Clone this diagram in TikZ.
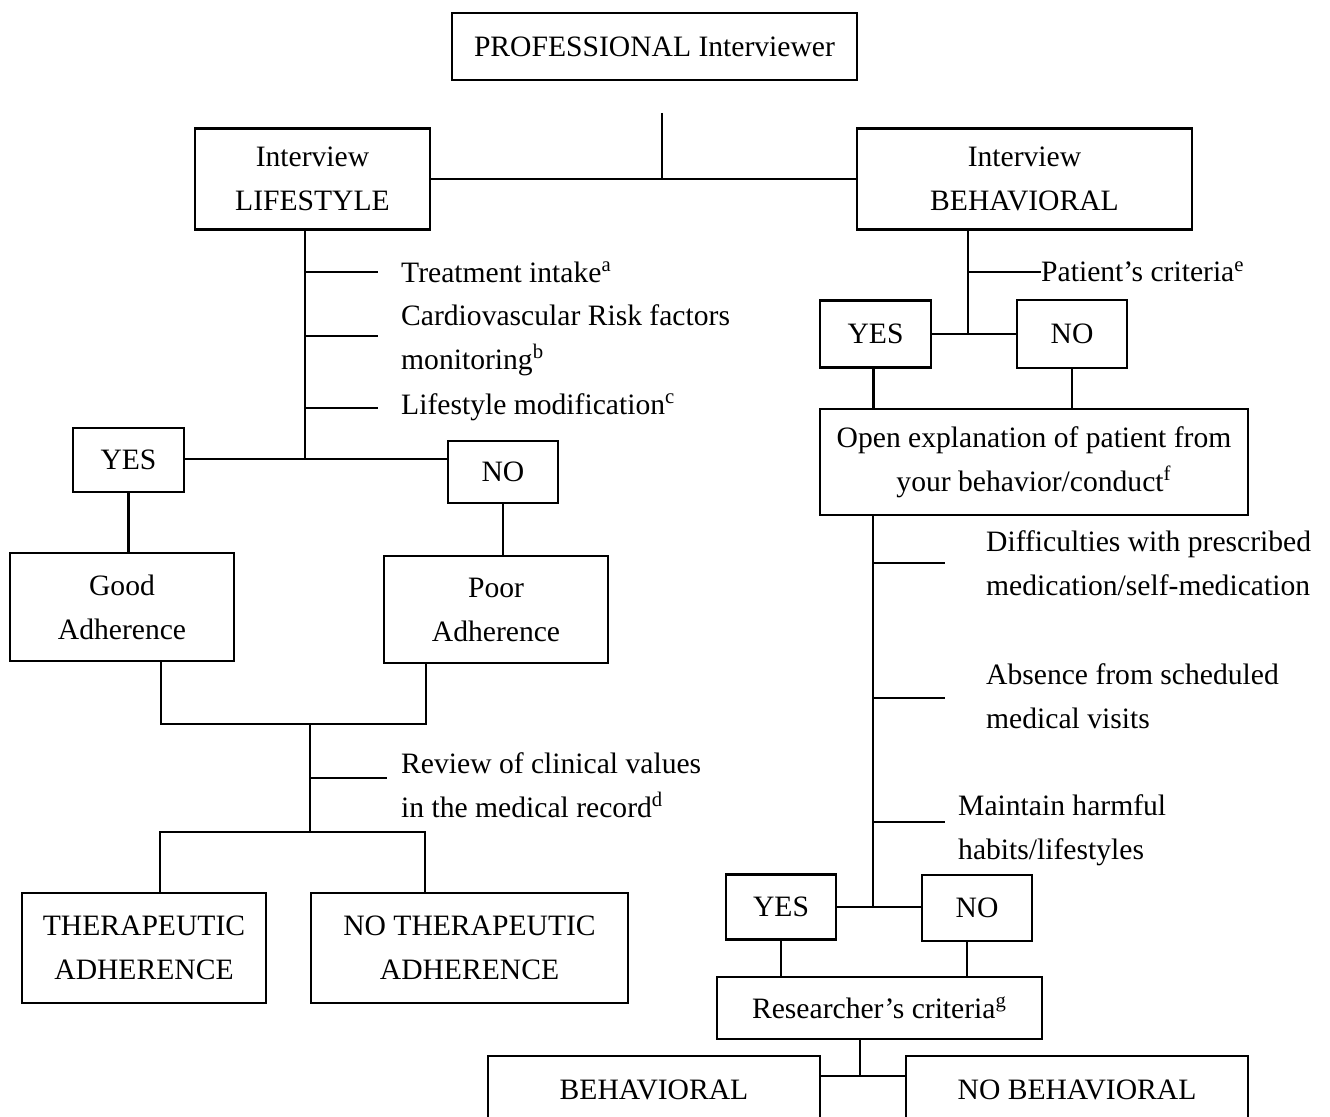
\documentclass[tikz,border=0pt]{standalone}
\usepackage{fontspec}
\setmainfont{Liberation Serif}
\usepackage{tikz}

\begin{document}
\begin{tikzpicture}
[x=0.5pt, y=-0.5pt, line width=1.2pt,
 every node/.style={inner sep=0pt, font=\fontsize{14.8}{22}\selectfont},
 box/.style={draw=black, line width=1.2pt, align=center},
 lbl/.style={anchor=west, align=left}]
\useasboundingbox (0,0) rectangle (1330,1117);
% top and interviews
\node (prof) [box, minimum width=202.5pt, minimum height=33.5pt] at (654.5, 46.5) {PROFESSIONAL Interviewer};
\node (lifestyle) [box, minimum width=117.5pt, minimum height=50.5pt] at (312.5, 179) {Interview\\LIFESTYLE};
\node (behavioral) [box, minimum width=167.5pt, minimum height=50.5pt] at (1024.5, 179) {Interview\\BEHAVIORAL};
% left branch
\node (yesL) [box, minimum width=55.5pt, minimum height=32pt] at (128.5, 460) {YES};
\node (noL) [box, minimum width=55pt, minimum height=31pt] at (503, 472) {NO};
\node (good) [box, minimum width=112pt, minimum height=54pt] at (122, 607) {Good\\Adherence};
\node (poor) [box, minimum width=112pt, minimum height=53.5pt] at (496, 609.5) {Poor\\Adherence};
\node (ther) [box, minimum width=122pt, minimum height=55pt] at (144, 948) {THERAPEUTIC\\ADHERENCE};
\node (nother) [box, minimum width=158.5pt, minimum height=55pt] at (469.5, 948) {NO THERAPEUTIC\\ADHERENCE};
% right branch
\node (yesR) [box, minimum width=55.5pt, minimum height=33.5pt] at (875.5, 334) {YES};
\node (noR) [box, minimum width=55pt, minimum height=34pt] at (1072, 334) {NO};
\node (open) [box, minimum width=214pt, minimum height=53pt] at (1034, 462) {Open explanation of patient from\\your behavior/conduct\textsuperscript{f}};
\node (yesB) [box, minimum width=55pt, minimum height=32.5pt] at (781, 907) {YES};
\node (noB) [box, minimum width=55pt, minimum height=33pt] at (977, 908) {NO};
\node (research) [box, minimum width=162.5pt, minimum height=31pt] at (879.5, 1008) {Researcher's criteria\textsuperscript{g}};
\node (behav) [box, minimum width=166pt, minimum height=34pt] at (654, 1090) {BEHAVIORAL};
\node (nobehav) [box, minimum width=171pt, minimum height=34pt] at (1077, 1090) {NO BEHAVIORAL};
% labels
\node (l1) [lbl] at (400, 272) {Treatment intake\textsuperscript{a}};
\node (l2) [lbl] at (400, 340) {Cardiovascular Risk factors\\monitoring\textsuperscript{b}};
\node (l3) [lbl] at (400, 407) {Lifestyle modification\textsuperscript{c}};
\node (l4) [lbl] at (400, 785) {Review of clinical values\\in the medical record\textsuperscript{d}};
\node (r1) [lbl] at (1040, 272) {Patient's criteria\textsuperscript{e}};
\node (r2) [lbl] at (985, 563) {Difficulties with prescribed\\medication/self-medication};
\node (r3) [lbl] at (985, 696) {Absence from scheduled\\medical visits};
\node (r4) [lbl] at (957, 830) {Maintain harmful\\habits/lifestyles};
% junctions
\coordinate (t0) at (662, 113);
\coordinate (lj) at (305, 459);
\coordinate (b1) at (378, 272);
\coordinate (b2) at (378, 336);
\coordinate (b3) at (378, 408);
\coordinate (gj) at (161, 724);
\coordinate (pj) at (426, 724);
\coordinate (mj) at (310, 724);
\coordinate (b4) at (387, 778);
\coordinate (tj) at (160, 832);
\coordinate (nj) at (425, 832);
\coordinate (rj) at (968, 334);
\coordinate (c1) at (1041, 272);
\coordinate (oj) at (873, 907);
\coordinate (c2) at (945, 563);
\coordinate (c3) at (945, 698);
\coordinate (c4) at (945, 822);
\coordinate (sj) at (860, 1076);
% connectors
\draw (t0) -- (t0 |- lifestyle.east);
\draw (lifestyle.east) -- (behavioral.west);
\draw (lifestyle.south -| lj) -- (lj);
\draw (b1 -| lj) -- (b1);
\draw (b2 -| lj) -- (b2);
\draw (b3 -| lj) -- (b3);
\draw (yesL.east |- lj) -- (noL.west |- lj);
\draw (yesL.south) -- (yesL.south |- good.north);
\draw (noL.south) -- (noL.south |- poor.north);
\draw (good.south -| gj) -- (gj) -- (pj) -- (poor.south -| pj);
\draw (mj) -- (mj |- tj);
\draw (b4 -| mj) -- (b4);
\draw (ther.north -| tj) -- (tj) -- (nj) -- (nother.north -| nj);
\draw (behavioral.south -| rj) -- (rj);
\draw (c1 -| rj) -- (c1);
\draw (yesR.east) -- (noR.west);
\draw ([xshift=-1pt]yesR.south) -- ([xshift=-1pt]yesR.south |- open.north);
\draw (noR.south) -- (noR.south |- open.north);
\draw (open.south -| oj) -- (oj);
\draw (c2 -| oj) -- (c2);
\draw (c3 -| oj) -- (c3);
\draw (c4 -| oj) -- (c4);
\draw (yesB.east |- oj) -- (noB.west |- oj);
\draw (yesB.south) -- (yesB.south |- research.north);
\draw ([xshift=-5pt]noB.south) -- ([xshift=-5pt]noB.south |- research.north);
\draw (research.south -| sj) -- (sj);
\draw (sj -| behav.east) -- (sj -| nobehav.west);

\end{tikzpicture}
\end{document}
